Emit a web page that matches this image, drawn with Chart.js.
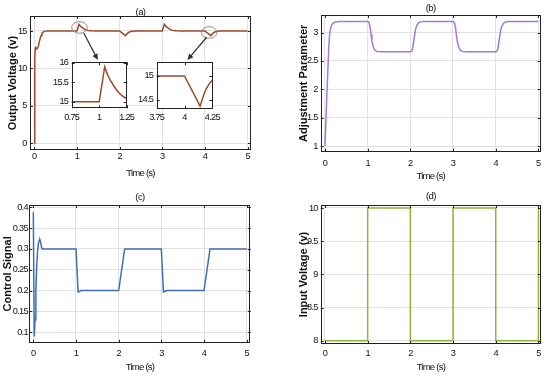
<!DOCTYPE html>
<html><head><meta charset="utf-8">
<script src="https://cdn.jsdelivr.net/npm/chart.js@4"></script>
<style>
body{margin:0;background:#fff;}
#wrap{position:relative;width:550px;height:377px;overflow:hidden;background:#fff;}
canvas{position:absolute;}
</style></head><body>
<div id="wrap">
<canvas id="ca" style="left:0;top:0" width="275" height="190"></canvas>
<canvas id="ia1" style="left:0;top:0" width="275" height="190"></canvas>
<canvas id="ia2" style="left:0;top:0" width="275" height="190"></canvas>
<canvas id="cb" style="left:275px;top:0" width="275" height="190"></canvas>
<canvas id="cc" style="left:0;top:190px" width="275" height="187"></canvas>
<canvas id="cd" style="left:275px;top:190px" width="275" height="187"></canvas>
</div>
<script>
// ---------- DATA ----------
const timeTicks = [0, 1, 2, 3, 4, 5];
const timeLabels = ['0', '1', '2', '3', '4', '5'];

// (a) Output voltage
const aTime = [0, 0.012, 0.025, 0.04, 0.06, 0.08, 0.1, 0.12, 0.14, 0.16, 0.18, 0.2, 0.23, 0.27, 0.32,
  1.0, 1.05, 1.075, 1.1, 1.125, 1.15, 1.175, 1.2, 1.225, 1.25, 1.3, 1.35, 1.42, 1.5,
  2.0, 2.14, 2.165, 2.19, 2.215, 2.24, 2.29, 2.39,
  3.0, 3.05, 3.075, 3.1, 3.125, 3.15, 3.175, 3.2, 3.225, 3.25, 3.3, 3.35, 3.42, 3.5,
  4.0, 4.14, 4.165, 4.19, 4.215, 4.24, 4.29, 4.39, 5.0];
const aVolt = [0, 11.5, 12.7, 12.75, 12.6, 12.7, 13.1, 13.6, 14.05, 14.4, 14.65, 14.82, 14.93, 14.98, 15.0,
  15.0, 15.89, 15.7, 15.55, 15.44, 15.33, 15.24, 15.17, 15.12, 15.08, 15.04, 15.02, 15.01, 15.0,
  15.0, 14.37, 14.55, 14.71, 14.81, 14.89, 14.97, 15.0,
  15.0, 15.89, 15.7, 15.55, 15.44, 15.33, 15.24, 15.17, 15.12, 15.08, 15.04, 15.02, 15.01, 15.0,
  15.0, 14.37, 14.55, 14.71, 14.81, 14.89, 14.97, 15.0, 15.0];
const aTicks = [0, 5, 10, 15];
const aLabels = ['0', '5', '10', '15'];
const in1XTicks = [0.75, 1, 1.25];
const in1XLabels = ['0.75', '1', '1.25'];
const in1YTicks = [15, 15.5, 16];
const in1YLabels = ['15', '15.5', '16'];
const in2XTicks = [3.75, 4, 4.25];
const in2XLabels = ['3.75', '4', '4.25'];
const in2YTicks = [14.5, 15];
const in2YLabels = ['14.5', '15'];
// annotation anchors (data units): ellipse centres and arrow start/end
const ellipseCentres = [[1.06, 15.47], [4.10, 14.8]];
const arrowLines = [[[1.16, 14.73], [1.49, 11.13]], [[4.04, 14.16], [3.59, 11.13]]];

// (b) Adjustment parameter
const bTime = [0, 0.03, 0.06, 0.09, 0.11, 0.14, 0.18, 0.24, 0.35,
  1.0, 1.02, 1.04, 1.06, 1.08, 1.1, 1.13, 1.17, 1.22, 1.35,
  2.0, 2.03, 2.05, 2.07, 2.1, 2.12, 2.15, 2.18, 2.22, 2.3,
  3.0, 3.02, 3.04, 3.06, 3.08, 3.1, 3.13, 3.17, 3.22, 3.35,
  4.0, 4.03, 4.05, 4.07, 4.1, 4.12, 4.15, 4.18, 4.22, 4.3, 5.0];
const bParam = [1.0, 1.6, 2.2, 2.75, 2.98, 3.1, 3.16, 3.185, 3.195,
  3.195, 3.19, 3.16, 3.08, 2.96, 2.85, 2.75, 2.69, 2.665, 2.66,
  2.66, 2.67, 2.71, 2.8, 2.95, 3.05, 3.12, 3.16, 3.185, 3.195,
  3.195, 3.19, 3.16, 3.08, 2.96, 2.85, 2.75, 2.69, 2.665, 2.66,
  2.66, 2.67, 2.71, 2.8, 2.95, 3.05, 3.12, 3.16, 3.185, 3.195, 3.195];
const bTicks = [1, 1.5, 2, 2.5, 3];
const bLabels = ['1', '1.5', '2', '2.5', '3'];

// (c) Control signal
const cTime = [0, 0.022, 0.04, 0.06, 0.08, 0.1, 0.12, 0.14, 0.155, 0.17, 0.19, 0.21,
  1.0, 1.05, 1.08, 1.12, 2.0, 2.07, 2.14, 3.0, 3.05, 3.08, 3.12, 4.0, 4.07, 4.14, 5.0];
const cSignal = [0.388, 0.09, 0.13, 0.2, 0.26, 0.295, 0.313, 0.321, 0.322, 0.318, 0.305, 0.3,
  0.3, 0.197, 0.198, 0.2, 0.2, 0.25, 0.3, 0.3, 0.197, 0.198, 0.2, 0.2, 0.25, 0.3, 0.3];
const cTicks = [0.1, 0.15, 0.2, 0.25, 0.3, 0.35, 0.4];
const cLabels = ['0.1', '0.15', '0.2', '0.25', '0.3', '0.35', '0.4'];

// (d) Input voltage
const dTime = [0, 1, 1, 2, 2, 3, 3, 4, 4, 5, 5];
const dVolt = [8, 8, 10, 10, 8, 8, 10, 10, 8, 8, 10];
const dTicks = [8, 8.5, 9, 9.5, 10];
const dLabels = ['8', '8.5', '9', '9.5', '10'];

// ---------- RENDER ----------
const SANS = "'Liberation Sans',Arial,sans-serif";
const TIGHT = '-0.7px';
const zip = (xs, ys) => xs.map((x, i) => ({x: x, y: ys[i]}));

function tighten(fn, spacing) {
  return function () {
    const c = this.ctx, prev = c.letterSpacing;
    c.letterSpacing = spacing;
    const r = fn.apply(this, arguments);
    c.letterSpacing = prev || '0px';
    return r;
  };
}

const boxPlugin = {
  id: 'box',
  beforeDraw(chart, args, o) {
    Object.values(chart.scales).forEach(s => {
      if (!s._tight) {
        s.drawLabels = tighten(s.drawLabels, TIGHT);
        if (s.axis === 'x') s.drawTitle = tighten(s.drawTitle, '-0.8px');
        s._tight = true;
      }
    });
    if (o.bg) {
      const a = chart.chartArea, ctx = chart.ctx;
      ctx.save(); ctx.fillStyle = '#fff';
      ctx.fillRect(a.left, a.top, a.right - a.left, a.bottom - a.top);
      ctx.restore();
    }
  },
  afterDraw(chart, args, o) {
    const {ctx, chartArea: {left, top, right, bottom}} = chart;
    const xs = chart.scales.x, ys = chart.scales.y;
    ctx.save();
    ctx.strokeStyle = '#222'; ctx.lineWidth = 1;
    ctx.beginPath();
    xs.ticks.forEach(t => {
      const p = Math.round(xs.getPixelForValue(t.value)) + 0.5;
      ctx.moveTo(p, bottom); ctx.lineTo(p, bottom - 3);
      ctx.moveTo(p, top); ctx.lineTo(p, top + 3);
    });
    ys.ticks.forEach(t => {
      const p = Math.round(ys.getPixelForValue(t.value)) + 0.5;
      ctx.moveTo(left, p); ctx.lineTo(left + 3, p);
      ctx.moveTo(right, p); ctx.lineTo(right - 3, p);
    });
    ctx.stroke();
    ctx.strokeRect(Math.round(left) + 0.5, Math.round(top) + 0.5, Math.round(right - left) - 1, Math.round(bottom - top) - 1);
    if (o.title) {
      ctx.fillStyle = '#111';
      ctx.font = "9.5px " + SANS;
      ctx.letterSpacing = '-0.6px';
      ctx.textAlign = 'center'; ctx.textBaseline = 'middle';
      ctx.fillText(o.title, (left + right) / 2, o.titleY);
      ctx.letterSpacing = '0px';
    }
    if (o.notes) {
      ctx.strokeStyle = '#8c8c8c'; ctx.lineWidth = 1;
      ellipseCentres.forEach(c => {
        ctx.beginPath();
        ctx.ellipse(xs.getPixelForValue(c[0]), ys.getPixelForValue(c[1]), 7.8, 5.8, 0, 0, Math.PI * 2);
        ctx.stroke();
      });
      ctx.strokeStyle = '#1f3a30'; ctx.fillStyle = '#1f3a30'; ctx.lineWidth = 1.2;
      arrowLines.forEach(l => {
        const x1 = xs.getPixelForValue(l[0][0]), y1 = ys.getPixelForValue(l[0][1]);
        const x2 = xs.getPixelForValue(l[1][0]), y2 = ys.getPixelForValue(l[1][1]);
        const ang = Math.atan2(y2 - y1, x2 - x1);
        ctx.beginPath(); ctx.moveTo(x1, y1);
        ctx.lineTo(x2 - 4 * Math.cos(ang), y2 - 4 * Math.sin(ang)); ctx.stroke();
        ctx.beginPath(); ctx.moveTo(x2, y2);
        ctx.lineTo(x2 - 6 * Math.cos(ang) + 2.8 * Math.sin(ang), y2 - 6 * Math.sin(ang) - 2.8 * Math.cos(ang));
        ctx.lineTo(x2 - 6 * Math.cos(ang) - 2.8 * Math.sin(ang), y2 - 6 * Math.sin(ang) + 2.8 * Math.cos(ang));
        ctx.closePath(); ctx.fill();
      });
    }
    ctx.restore();
  }
};

function makeChart(id, p) {
  return new Chart(document.getElementById(id), {
    type: 'line',
    data: {datasets: [{data: p.data, borderColor: p.color, borderWidth: p.lw || 1.5, pointRadius: 0, tension: 0, fill: false}]},
    plugins: [boxPlugin],
    options: {
      responsive: false, animation: false, devicePixelRatio: 1,
      layout: {padding: p.pad},
      plugins: {legend: {display: false}, tooltip: {enabled: false}, title: {display: false},
        box: {title: p.title, titleY: p.titleY, bg: p.bg, notes: p.notes}},
      scales: {
        x: {
          type: 'linear', min: p.xmin, max: p.xmax,
          afterBuildTicks: s => { s.ticks = p.xticks.map(v => ({value: v})); },
          afterFit: s => { s.height = p.xh; },
          grid: {display: p.grid !== false, color: '#e2e2e2', drawTicks: false, lineWidth: 1},
          border: {display: false},
          ticks: {padding: p.xtp, color: '#111', maxRotation: 0, autoSkip: false,
            font: {family: SANS, size: 9.2}, callback: (v, i) => p.xlabels[i]},
          title: {display: !!p.xtitle, text: p.xtitle, color: '#111',
            font: {family: SANS, size: 9.6}, padding: {top: 0, bottom: p.xtb}}
        },
        y: {
          type: 'linear', min: p.ymin, max: p.ymax,
          afterBuildTicks: s => { s.ticks = p.yticks.map(v => ({value: v})); },
          afterFit: s => { s.width = p.yw; },
          grid: {display: p.grid !== false, color: '#e2e2e2', drawTicks: false, lineWidth: 1},
          border: {display: false},
          ticks: {padding: p.ytp, color: '#111', autoSkip: false,
            font: {family: SANS, size: 9.2}, callback: (v, i) => p.ylabels[i]},
          title: {display: !!p.ytitle, text: p.ytitle, color: '#111',
            font: {family: SANS, size: 11, weight: 'bold'}, padding: {top: p.ytt, bottom: 0}}
        }
      }
    }
  });
}

// (a)
makeChart('ca', {data: zip(aTime, aVolt), color: '#a3472a', title: '(a)', titleY: 12, notes: true,
  pad: {left: 0, right: 24, top: 16, bottom: 0}, xh: 40, yw: 30,
  xmin: -0.1, xmax: 5.08, ymin: -0.9, ymax: 17,
  xticks: timeTicks, xlabels: timeLabels, yticks: aTicks, ylabels: aLabels,
  xtp: 1.3, ytp: 3.3, xtitle: 'Time (s)', xtb: 11.2, ytitle: 'Output Voltage (v)', ytt: 6});
makeChart('ia1', {data: zip(aTime, aVolt), color: '#a3472a', bg: true, grid: false,
  pad: {left: 51.7, right: 148.3, top: 62.3, bottom: 67.7}, xh: 14, yw: 20,
  xmin: 0.75, xmax: 1.25, ymin: 14.83, ymax: 16.01,
  xticks: in1XTicks, xlabels: in1XLabels, yticks: in1YTicks, ylabels: in1YLabels,
  xtp: 3.6, ytp: 3.5});
makeChart('ia2', {data: zip(aTime, aVolt), color: '#a3472a', bg: true, grid: false,
  pad: {left: 136.7, right: 62.7, top: 62.3, bottom: 67}, xh: 14, yw: 20,
  xmin: 3.75, xmax: 4.25, ymin: 14.31, ymax: 15.285,
  xticks: in2XTicks, xlabels: in2XLabels, yticks: in2YTicks, ylabels: in2YLabels,
  xtp: 2.9, ytp: 3.5});
// (b)
makeChart('cb', {data: zip(bTime, bParam), color: '#a278e2', title: '(b)', titleY: 8.5,
  pad: {left: 0, right: 9.3, top: 15, bottom: 0}, xh: 38.3, yw: 45.7,
  xmin: -0.1, xmax: 5.056, ymin: 0.9, ymax: 3.31,
  xticks: timeTicks, xlabels: timeLabels, yticks: bTicks, ylabels: bLabels,
  xtp: 5.8, ytp: 3, xtitle: 'Time (s)', xtb: 7.7, ytitle: 'Adjustment Parameter', ytt: 22.5});
// (c)
makeChart('cc', {data: zip(cTime, cSignal), color: '#3f6eb4', title: '(c)', titleY: 7,
  pad: {left: 0, right: 24.3, top: 15, bottom: 0}, xh: 34.3, yw: 29.3,
  xmin: -0.094, xmax: 5.094, ymin: 0.075, ymax: 0.4055,
  xticks: timeTicks, xlabels: timeLabels, yticks: cTicks, ylabels: cLabels,
  xtp: 5.5, ytp: 1.5, xtitle: 'Time (s)', xtb: 3.4, ytitle: 'Control Signal', ytt: 1.2});
// (d)
makeChart('cd', {data: zip(dTime, dVolt), color: '#8db53d', title: '(d)', titleY: 6.8,
  pad: {left: 0, right: 9, top: 15, bottom: 0}, xh: 33, yw: 45.7,
  xmin: -0.1, xmax: 5.06, ymin: 7.95, ymax: 10.045,
  xticks: timeTicks, xlabels: timeLabels, yticks: dTicks, ylabels: dLabels,
  xtp: 4.2, ytp: 3, xtitle: 'Time (s)', xtb: 3.4, ytitle: 'Input Voltage (v)', ytt: 22.5});
</script>
</body></html>
